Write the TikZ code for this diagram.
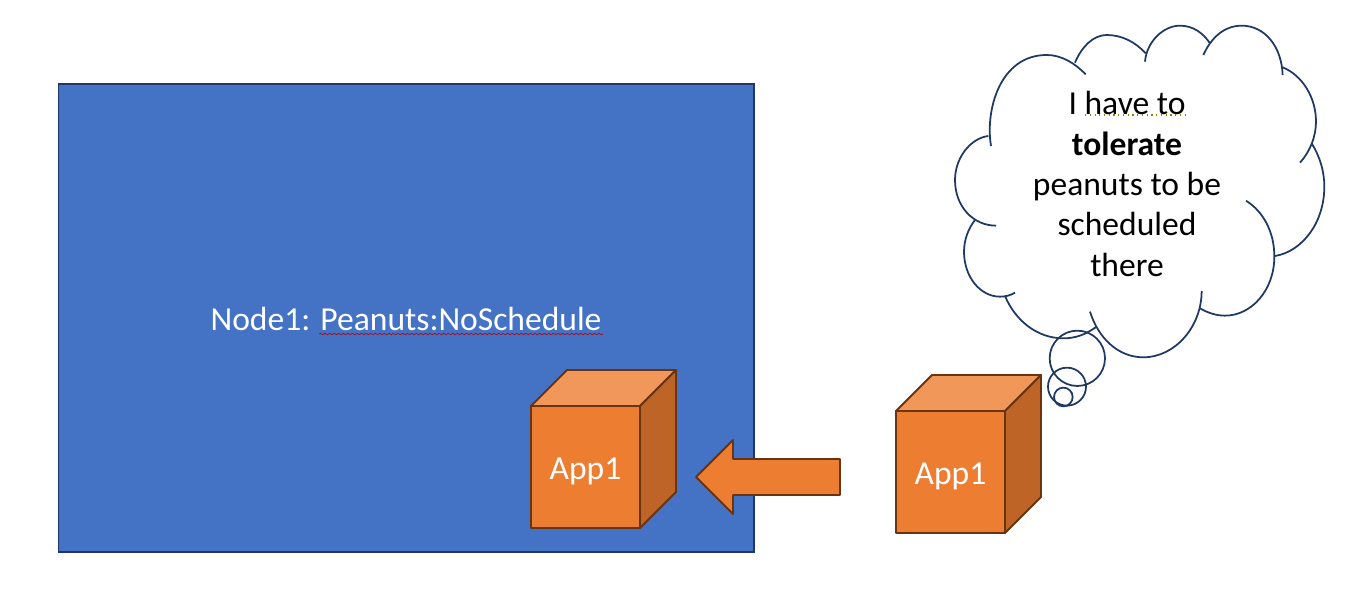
\documentclass[tikz,border=0pt]{standalone}
\usepackage{fontspec}
\setmainfont{Carlito}
\usetikzlibrary{decorations.pathmorphing}
\definecolor{nodeblue}{HTML}{4472C4}
\definecolor{navyline}{HTML}{1F3864}
\definecolor{apporange}{HTML}{ED7D31}
\definecolor{apptop}{HTML}{F1975A}
\definecolor{appside}{HTML}{BE6427}
\definecolor{appline}{HTML}{6B3410}
\begin{document}
\begin{tikzpicture}[
    x=0.02cm, y=-0.02cm,
    label/.style={font=\fontsize{19.1}{23}\selectfont},
    face/.style={draw=appline, line width=1.1pt, line join=round},
    lobe/.style={draw=navyline, line width=1pt},
    bubble/.style={draw=navyline, line width=1pt}
]
  \useasboundingbox (0, 0) rectangle (1358, 598);
  % --- the cluster node ---------------------------------------------------
  \node[draw=navyline, line width=1.1pt, fill=nodeblue, anchor=north west,
        minimum width=13.92cm, minimum height=9.36cm, inner sep=0pt]
    (node1) at (57.5, 83.5) {};
  \node[label, text=white] (taint) at (406, 319) {Node1: Peanuts:NoSchedule};
  \draw[red!75!black, line width=0.35pt, decorate,
        decoration={snake, amplitude=0.45pt, segment length=2.6pt}]
    (319, 334) -- (603, 334);
  % --- the two pods -------------------------------------------------------
  \foreach \cx/\cy/\name in {531/406/podin, 896/411/podout} {
    \begin{scope}[shift={(\cx, \cy)}]
      \draw[face, fill=apporange] (0, 0) rectangle (109, 122);
      \draw[face, fill=apptop] (0, 0) -- (36, -36) -- (145, -36) -- (109, 0) -- cycle;
      \draw[face, fill=appside] (109, 0) -- (145, -36) -- (145, 86) -- (109, 122) -- cycle;
      \node[label, text=white] (\name) at (54.5, 65) {App1};
    \end{scope}
  }
  % --- the block arrow ----------------------------------------------------
  \draw[face, fill=apporange] (696, 477) -- (733, 440) -- (733, 459) -- (840, 459)
    -- (840, 495) -- (733, 495) -- (733, 514) -- cycle;
  % --- the thought cloud, in zoomed pixels --------------------------------
  \begin{scope}[shift={(940, 10)}, x=0.02cm/3, y=-0.02cm/3]
    \draw[lobe] (153,408) .. controls (135,300) and (180,135) .. (320,135) .. controls (365,135) and (405,160) .. (437,193);
    \draw[lobe] (405,158) .. controls (425,110) and (460,75) .. (500,75) .. controls (545,75) and (585,95) .. (617,130);
    \draw[lobe] (615,155) .. controls (620,95) and (670,47) .. (720,47) .. controls (760,47) and (790,70) .. (810,100);
    \draw[lobe] (790,135) .. controls (815,80) and (855,47) .. (905,47) .. controls (975,47) and (1025,110) .. (1028,195);
    \draw[lobe] (1028,172) .. controls (1085,195) and (1128,260) .. (1128,335) .. controls (1128,380) and (1110,425) .. (1080,458);
    \draw[lobe] (1115,400) .. controls (1140,440) and (1153,485) .. (1153,530) .. controls (1153,640) and (1085,725) .. (1005,738);
    \draw[lobe] (918,572) .. controls (970,605) and (1003,665) .. (1003,740) .. controls (1003,840) and (935,917) .. (855,917) .. controls (828,917) and (802,908) .. (780,895);
    \draw[lobe] (785,843) .. controls (785,950) and (705,1042) .. (610,1042) .. controls (535,1042) and (475,985) .. (450,905);
    \draw[lobe] (470,950) .. controls (435,975) and (405,985) .. (370,985) .. controls (290,985) and (225,930) .. (195,858);
    \draw[lobe] (225,848) .. controls (210,857) and (195,860) .. (180,860) .. controls (120,860) and (72,800) .. (72,725) .. controls (72,690) and (85,655) .. (105,630);
    \draw[lobe] (168,647) .. controls (100,647) and (45,590) .. (45,510) .. controls (45,445) and (90,385) .. (145,378);
    \draw[bubble] (412, 1045) circle (83);
    \draw[bubble] (381, 1130) circle (57);
    \draw[bubble] (370, 1161) circle (28);
  \end{scope}
  \node[label, align=center] (thought) at (1127, 184)
    {I have to\\ \textbf{tolerate}\\ peanuts to be\\ scheduled\\ there};
  \draw[olive, line width=0.7pt, dotted] (1085, 115) -- (1187, 115);
\end{tikzpicture}
\end{document}
